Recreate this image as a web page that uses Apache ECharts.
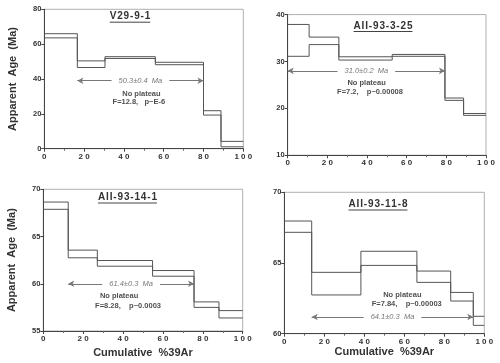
<!DOCTYPE html>
<html>
<head>
<meta charset="utf-8">
<script src="https://cdn.jsdelivr.net/npm/echarts@6/dist/echarts.min.js"></script>
<style>
html,body{margin:0;padding:0;background:#fff;}
#chart{width:500px;height:363px;}
</style>
</head>
<body>
<div id="chart"></div>
<script>
// ---- Data ----
const xTicks = [0, 20, 40, 60, 80, 100];

// Panel 1: V29-9-1
const p1Name = 'V29-9-1';
const p1Bounds = [0, 16.6, 30.5, 55.8, 80, 88.8, 100];
const p1Top = [66.0, 50.4, 52.8, 49.6, 21.8, 4.2];
const p1Bottom = [63.6, 46.6, 51.8, 48.2, 19.3, 1.1];
const p1Plateau = { from: 16.6, to: 80, y: 39, text: '50.3\u00b10.4  Ma' };
const p1Notes = [[48.8, 31.2, 'No plateau'], [47.5, 26.8, 'F=12.8,   p~E-6']];

// Panel 2: AII-93-3-25
const p2Name = 'AII-93-3-25';
const p2Bounds = [0, 10.8, 25.8, 52.7, 79.3, 88.7, 100];
const p2Top = [37.9, 35.2, 31.0, 31.5, 22.2, 18.9];
const p2Bottom = [31.1, 33.6, 30.3, 31.1, 21.7, 18.5];
const p2Plateau = { from: 0, to: 79.3, y: 28, text: '31.0\u00b10.2  Ma' };
const p2Notes = [[39.8, 25.4, 'No plateau'], [41.5, 23.6, 'F=7.2,    p~0.00008']];

// Panel 3: AII-93-14-1
const p3Name = 'AII-93-14-1';
const p3Bounds = [0, 12.5, 27.1, 54.8, 75.6, 88.1, 100];
const p3Top = [68.65, 63.56, 62.46, 61.4, 58.08, 57.16];
const p3Bottom = [67.88, 62.75, 61.86, 60.8, 57.5, 56.38];
const p3Plateau = { from: 12.5, to: 75.6, y: 60.0, text: '61.4\u00b10.3  Ma' };
const p3Notes = [[38, 58.7, 'No plateau'], [42.5, 57.7, 'F=8.28,    p~0.0003']];

// Panel 4: AII-93-11-8
const p4Name = 'AII-93-11-8';
const p4Bounds = [0, 13.7, 38.3, 66.3, 83.2, 94.5, 100];
const p4Top = [67.97, 64.34, 65.83, 64.43, 62.92, 61.23];
const p4Bottom = [67.17, 62.74, 64.83, 63.63, 62.31, 60.59];
const p4Plateau = { from: 13.7, to: 94.5, y: 61.18, text: '64.1\u00b10.3  Ma' };
const p4Notes = [[59, 62.74, 'No plateau'], [61.2, 62.13, 'F=7.84,    p~0.00003']];

const yRanges = [[0, 80, 20], [10, 40, 10], [55, 70, 5], [60, 70, 5]];

// ---- Layout ----
const grids = [
  { left: 44.3, top: 9.3, width: 199, height: 139.4 },
  { left: 287.7, top: 14.6, width: 198.3, height: 140.6 },
  { left: 43.3, top: 189.3, width: 199.4, height: 141.7 },
  { left: 284.3, top: 192.3, width: 200, height: 141.4 }
];
const titlePos = [[130, 16.7], [383, 26], [127.5, 197.5], [378, 204.5]];

const FONT = 'Liberation Sans, Arial, sans-serif';
const TITLE_FONT = 'bold 10px ' + FONT;
const panels = [
  { name: p1Name, b: p1Bounds, t: p1Top, l: p1Bottom, pl: p1Plateau, notes: p1Notes },
  { name: p2Name, b: p2Bounds, t: p2Top, l: p2Bottom, pl: p2Plateau, notes: p2Notes },
  { name: p3Name, b: p3Bounds, t: p3Top, l: p3Bottom, pl: p3Plateau, notes: p3Notes },
  { name: p4Name, b: p4Bounds, t: p4Top, l: p4Bottom, pl: p4Plateau, notes: p4Notes }
];

function stepData(bounds, vals) {
  return bounds.map((b, i) => [b, vals[Math.min(i, vals.length - 1)]]);
}
const spaced = v => String(v).split('').join(' ');
const measureCtx = document.createElement('canvas').getContext('2d');
function textWidth(txt, font) { measureCtx.font = font; return measureCtx.measureText(txt).width; }

const option = {
  animation: false,
  backgroundColor: '#fff',
  grid: grids.map(g => Object.assign({ show: true, borderColor: '#b0b0b0', borderWidth: 1, backgroundColor: 'transparent' }, g)),
  xAxis: grids.map((g, i) => ({
    type: 'value', gridIndex: i, min: 0, max: 100, interval: 20,
    axisLine: { lineStyle: { color: '#444', width: 1 } },
    axisTick: { show: true, length: 3, lineStyle: { color: '#444' } },
    minorTick: { show: true, splitNumber: 2, length: 2, lineStyle: { color: '#666' } },
    splitLine: { show: false },
    axisLabel: { formatter: spaced, fontSize: 8, fontWeight: 'bold', color: '#333', fontFamily: FONT, margin: 4 },
    name: i >= 2 ? 'Cumulative  %39Ar' : '',
    nameLocation: 'middle', nameGap: i === 2 ? 16 : 13,
    nameTextStyle: { fontSize: 11, fontWeight: 'bold', color: '#333', fontFamily: FONT }
  })),
  yAxis: grids.map((g, i) => ({
    type: 'value', gridIndex: i, min: yRanges[i][0], max: yRanges[i][1], interval: yRanges[i][2],
    axisLine: { show: true, lineStyle: { color: '#444', width: 1 } },
    axisTick: { show: true, length: 3, lineStyle: { color: '#444' } },
    splitLine: { show: false },
    axisLabel: { fontSize: 7.5, fontWeight: 'bold', color: '#333', fontFamily: FONT, margin: 3 },
    name: (i === 0 || i === 2) ? 'Apparent  Age  (Ma)' : '',
    nameLocation: 'middle', nameGap: 26,
    nameTextStyle: { fontSize: 11, fontWeight: 'bold', color: '#333', fontFamily: FONT }
  })),
  series: [],
  graphic: []
};

panels.forEach((p, i) => {
  ['t', 'l'].forEach(k => {
    option.series.push({
      type: 'line', xAxisIndex: i, yAxisIndex: i, step: 'end', showSymbol: false, symbol: 'none',
      data: stepData(p.b, p[k]), z: 2,
      lineStyle: { color: '#555', width: 1 }, silent: true
    });
  });
  option.series.push({
    type: 'scatter', xAxisIndex: i, yAxisIndex: i, symbolSize: 1, z: 3,
    itemStyle: { color: 'rgba(0,0,0,0)' }, silent: true,
    data: p.notes,
    label: { show: true, position: 'inside', formatter: d => d.data[2], fontSize: 7.5, fontWeight: 'bold', color: '#222', fontFamily: FONT },
    markLine: {
      silent: true, symbol: ['arrow', 'arrow'], symbolSize: [5, 6],
      lineStyle: { color: '#777', width: 1, type: 'solid' },
      label: {
        show: true, position: 'middle', distance: 0, verticalAlign: 'middle',
        formatter: p.pl.text, fontSize: 7.5, fontStyle: 'italic', color: '#777', fontFamily: FONT,
        backgroundColor: '#fff', padding: [1, 7]
      },
      data: [[{ coord: [p.pl.from, p.pl.y] }, { coord: [p.pl.to, p.pl.y] }]]
    }
  });
  const tp = titlePos[i];
  const txt = p.name.split('').join('\u200a');
  const w = textWidth(txt, TITLE_FONT);
  option.graphic.push({
    type: 'text', x: tp[0], y: tp[1], silent: true,
    style: { text: txt, font: TITLE_FONT, fill: '#333', textAlign: 'center', textVerticalAlign: 'middle' }
  });
  option.graphic.push({
    type: 'line', silent: true,
    shape: { x1: tp[0] - w / 2, y1: tp[1] + 5.5, x2: tp[0] + w / 2, y2: tp[1] + 5.5 },
    style: { stroke: '#444', lineWidth: 1 }
  });
});

const chart = echarts.init(document.getElementById('chart'), null, { renderer: 'canvas' });
chart.setOption(option);
</script>
</body>
</html>
